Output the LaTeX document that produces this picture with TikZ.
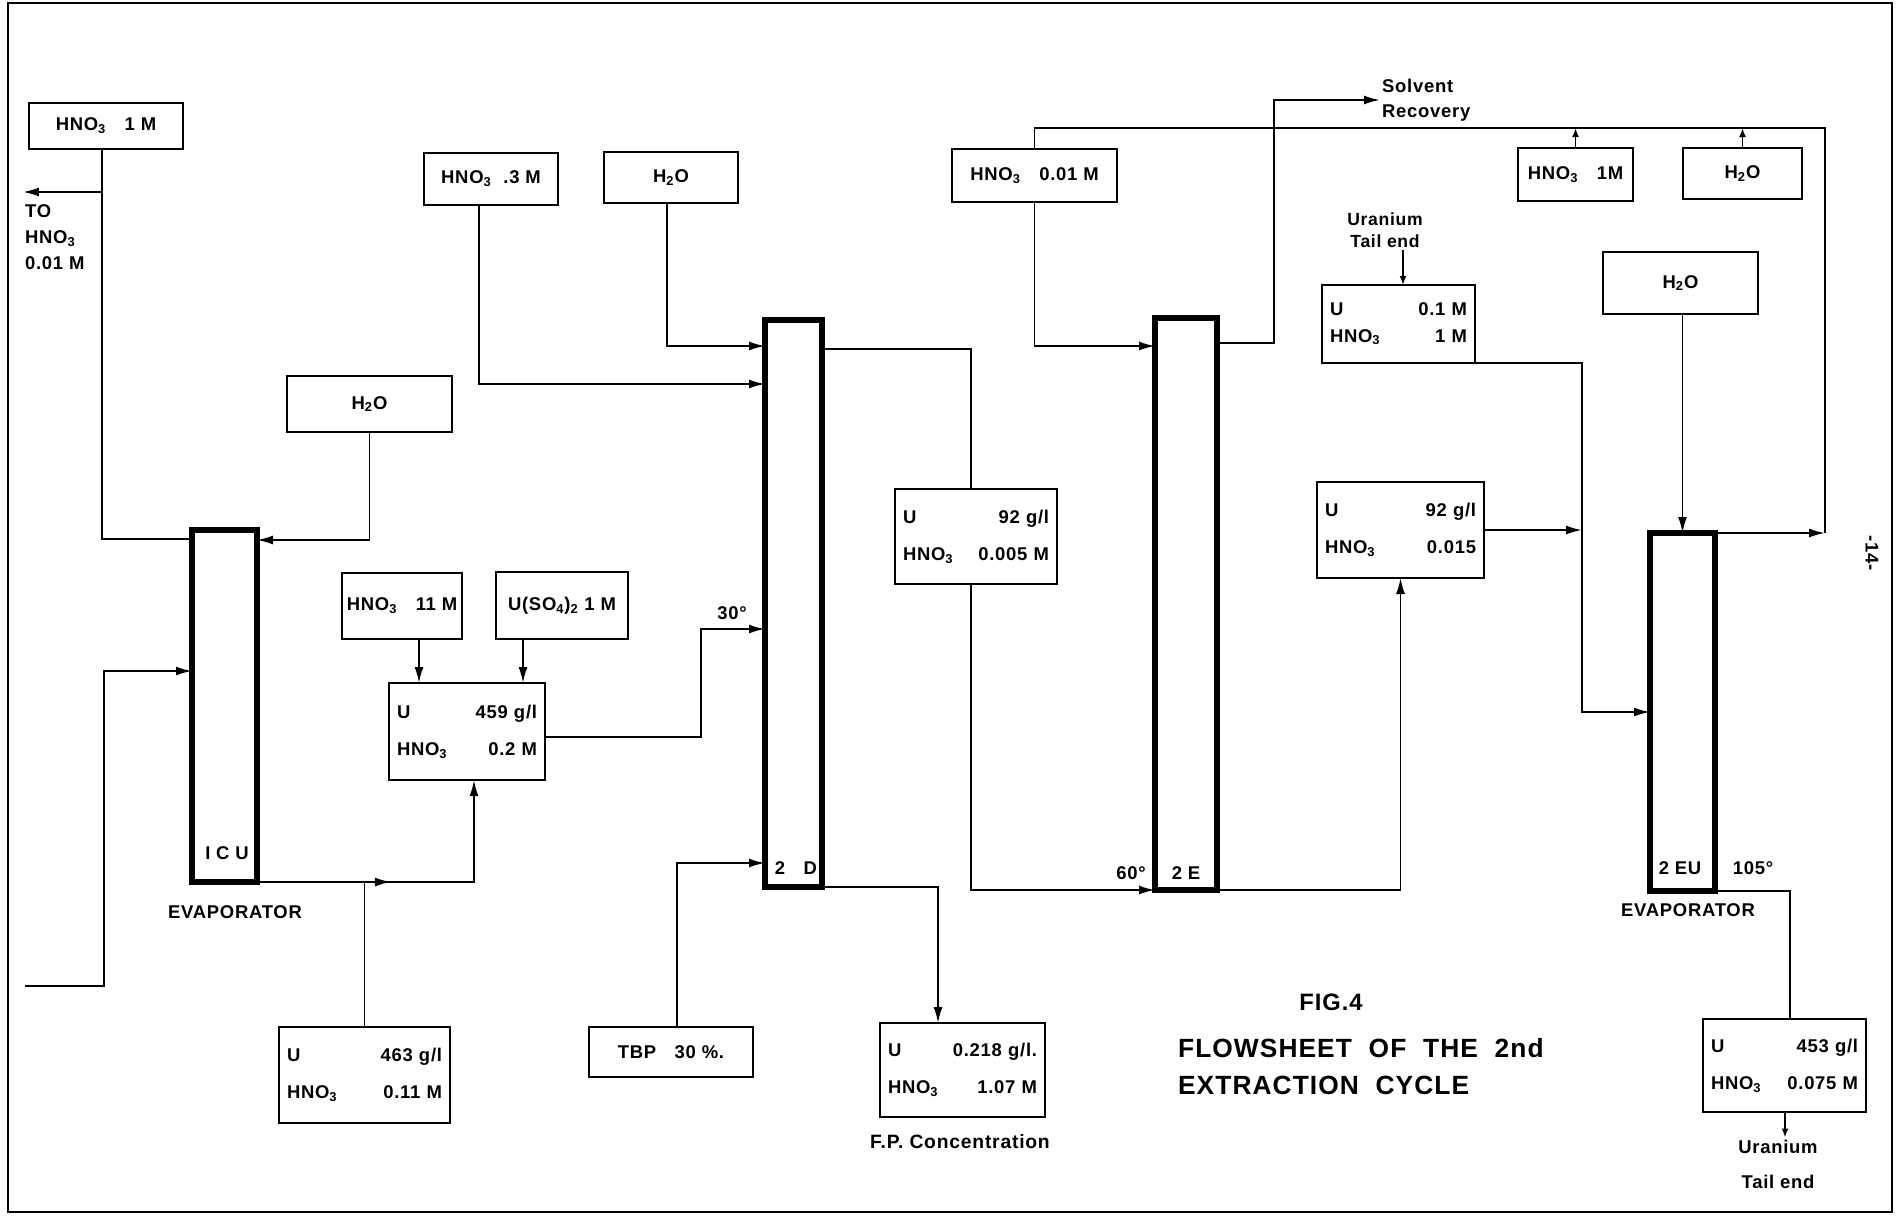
\documentclass[tikz,border=0pt]{standalone}
\usepackage{fontspec}
\setmainfont{Liberation Sans}[LetterSpace=4]
\usetikzlibrary{arrows.meta, calc, decorations.markings}

\newcommand{\HNO}{HNO\textsubscript{3}}
\newcommand{\Water}{H\textsubscript{2}O}

\begin{document}
\begin{tikzpicture}[
    x=0.02cm, y=-0.02cm,
    font=\fontsize{10.5}{12.6}\selectfont\bfseries, >=Latex,
    feedbox/.style 2 args={draw, line width=1.4pt, outer sep=0pt,
                  minimum width=#1*0.02cm, minimum height=#2*0.02cm,
                  inner sep=0pt, align=center},
    assaybox/.style 2 args={draw, line width=1.4pt, outer sep=0pt,
                  minimum width=#1*0.02cm, minimum height=#2*0.02cm,
                  inner xsep=0.16cm, inner ysep=0pt,
                  /utils/exec={\pgfmathsetlengthmacro\assaywd{(#1-16)*0.02cm}},
                  text width=\assaywd, align=left,
                  font=\fontsize{10.5}{21}\selectfont\bfseries},
    colbox/.style 2 args={draw, line width=3pt, outer sep=0pt,
                  minimum width=#1*0.02cm, minimum height=#2*0.02cm, inner sep=0pt},
    lbl/.style={inner sep=1pt},
    pipe/.style={line width=1.1pt},
    arr/.style={pipe, -{Latex[length=3.2mm, width=1.8mm]}},
    tiparr/.style={pipe, -{Latex[length=1.8mm, width=1.4mm]}},
    midarr/.style={postaction={decorate}, decoration={markings,
                  mark=at position #1 with {\arrow{Latex[length=3.2mm, width=1.8mm]}}}}
]
\useasboundingbox (0,0) rectangle (1896,1217);
\draw[line width=1.6pt] (8,3) rectangle (1892,1212);

% --- feed boxes
\node[feedbox={154}{46}] (hnoA) at (106,126)      {\HNO\quad 1 M};
\node[feedbox={134}{52}] (hnoB) at (491,179)      {\HNO\ \ .3 M};
\node[feedbox={134}{51}] (h2oB) at (671,177.5)    {\Water};
\node[feedbox={165}{53}] (hnoC) at (1034.5,175.5) {\HNO\quad 0.01 M};
\node[feedbox={115}{53}] (hnoD) at (1575.5,174.5) {\HNO\quad 1M};
\node[feedbox={119}{51}] (h2oC) at (1742.5,173.5) {\Water};
\node[feedbox={155}{62}] (h2oD) at (1680.5,283)   {\Water};
\node[feedbox={165}{56}] (h2oA) at (369.5,404)    {\Water};
\node[feedbox={120}{66}] (hnoE) at (402,606)      {\HNO\quad 11 M};
\node[feedbox={132}{67}] (uso)  at (562,605.5)    {U(SO\textsubscript{4})\textsubscript{2}\ 1 M};
\node[feedbox={164}{50}] (tbp)  at (671,1052)     {TBP\quad 30 \%.};

% --- stream compositions
\node[assaybox={153}{78}, font=\fontsize{10.5}{15}\selectfont\bfseries]
                          (u01)  at (1398.5,324)  {U\hfill 0.1 M\\\HNO\hfill 1 M};
\node[assaybox={156}{97}] (u459) at (467,731.5)   {U\hfill 459 g/l\\\HNO\hfill 0.2 M};
\node[assaybox={162}{95}] (u92a) at (976,536.5)   {U\hfill 92 g/l\\\HNO\hfill 0.005 M};
\node[assaybox={167}{96}] (u92b) at (1400.5,530)  {U\hfill 92 g/l\\\HNO\hfill 0.015};
\node[assaybox={171}{96}] (u463) at (364.5,1075)  {U\hfill 463 g/l\\\HNO\hfill 0.11 M};
\node[assaybox={165}{94}] (fpc)  at (962.5,1070)  {U\hfill 0.218 g/l.\\\HNO\hfill 1.07 M};
\node[assaybox={163}{93}] (u453) at (1784.5,1065.5) {U\hfill 453 g/l\\\HNO\hfill 0.075 M};

% --- columns and evaporators
\node[colbox={65}{352}] (icu)   at (224.5,706)  {};
\node[colbox={57}{567}] (colD)  at (793.5,603.5) {};
\node[colbox={62}{572}] (colE)  at (1186,604)   {};
\node[colbox={65}{358}] (colEU) at (1682.5,712) {};

\node[lbl] (icuName) at (227,853)  {I C U};
\node[lbl] (dName)   at (796,868)  {2\quad D};
\node[lbl] (eName)   at (1186,873) {2 E};
\node[lbl] (euName)  at (1680,868) {2 EU};
\node[lbl] (tempD)   at (732,613)  {30°};
\node[lbl] (tempE)   at (1131,873) {60°};
\node[lbl] (tempEU)  at (1753,868) {105°};
\node[lbl] (evapL)   at (235,912)  {EVAPORATOR};
\node[lbl] (evapR)   at (1688,910) {EVAPORATOR};

% --- free labels
\node[lbl, anchor=west, align=left, font=\fontsize{10.5}{14.8}\selectfont\bfseries]
      (toAcid) at (23,237) {TO\\\HNO\\0.01 M};
\node[lbl, anchor=west, align=left, font=\fontsize{10.5}{14.2}\selectfont\bfseries]
      (solv) at (1380,100) {Solvent\\Recovery};
\node[lbl, align=center, font=\fontsize{10}{12.5}\selectfont\bfseries]
      (tailTop) at (1385,230) {Uranium\\Tail end};
\node[lbl, align=center, font=\fontsize{10.5}{20}\selectfont\bfseries]
      (tailBot) at (1778,1164) {Uranium\\Tail end};
\node[lbl, font=\fontsize{11}{13}\selectfont\bfseries] (fpcName) at (960,1142) {F.P. Concentration};
\node[lbl, font=\fontsize{13.5}{16}\selectfont\bfseries] (figNo) at (1331,1002) {FIG.4};
\node[lbl, anchor=west, font=\fontsize{15}{18}\selectfont\bfseries]
      (titleA) at (1176,1048) {FLOWSHEET\ \ OF\ \ THE\ \ 2nd};
\node[lbl, anchor=west, font=\fontsize{15}{18}\selectfont\bfseries]
      (titleB) at (1176,1085) {EXTRACTION\ \ CYCLE};
\node[lbl, rotate=-90] (pageNo) at (1872,553) {-14-};

% --- first cycle evaporator
\coordinate (acidTap) at (102,192);
\coordinate (acidOut) at (23,192);
\coordinate (feedIn)  at (25,986);
\draw[pipe] (hnoA.south -| 102,0) |- (icu.west |- 0,539);
\draw[arr]  (acidTap) -- (acidOut);
\draw[arr]  (h2oA.south) |- (icu.east |- 0,540);
\draw[arr]  (feedIn) -| (104,671) -- (icu.west |- 0,671);
\draw[arr, midarr=0.42] (icu.south east) -| (u459.south -| 474,0);
\draw[pipe] (u463.north) -- (u463.north |- 0,882);
\draw[arr]  (hnoE.south -| 419,0) -- (u459.north -| 419,0);
\draw[arr]  (uso.south -| 523,0) -- (u459.north -| 523,0);

% --- 2D column
\draw[arr]  (u459.east |- 0,737) -| (701,629) -- (colD.west |- 0,629);
\draw[arr]  (hnoB.south -| 479,0) |- (colD.west |- 0,384);
\draw[arr]  (h2oB.south -| 667,0) |- (colD.west |- 0,346);
\draw[arr]  (tbp.north -| 677,0) |- (colD.west |- 0,863);
\draw[arr]  (colD.south east) -| (fpc.north -| 938,0);
\draw[pipe] (colD.east |- 0,349) -| (u92a.north -| 971,0);

% --- 2E column
\draw[arr]  (u92a.south -| 971,0) |- (colE.south west);
\draw[arr]  (hnoC.south) |- (colE.west |- 0,346);
\draw[arr]  (colE.east |- 0,343) -| (1274,100) -- (solv.west);
\draw[arr]  (colE.south east) -| (u92b.south);

% --- 2EU evaporator and acid return
\coordinate (mixEU) at (1582,530);
\coordinate (retCorner) at (1825,533);
\draw[arr]  (u92b.east) -- (mixEU);
\draw[arr]  (u01.south east) -| (colEU.west -| 1582,0) -- (colEU.west);
\draw[tiparr] (tailTop.south -| 1403,0) -- (u01.north -| 1403,0);
\draw[arr]  (colEU.north |- h2oD.south) -- (colEU.north);
\draw[arr]  (colEU.north east) -- (retCorner);
\draw[pipe] (retCorner) -- (1825,128) -| (hnoC.north);
\draw[tiparr] (hnoD.north) -- (hnoD.north |- 0,128);
\draw[tiparr] (h2oC.north) -- (h2oC.north |- 0,128);
\draw[pipe] (colEU.south east) -| (u453.north -| 1790,0);
\draw[tiparr] (u453.south -| 1785,0) -- (tailBot.north -| 1785,0);

\end{tikzpicture}
\end{document}
